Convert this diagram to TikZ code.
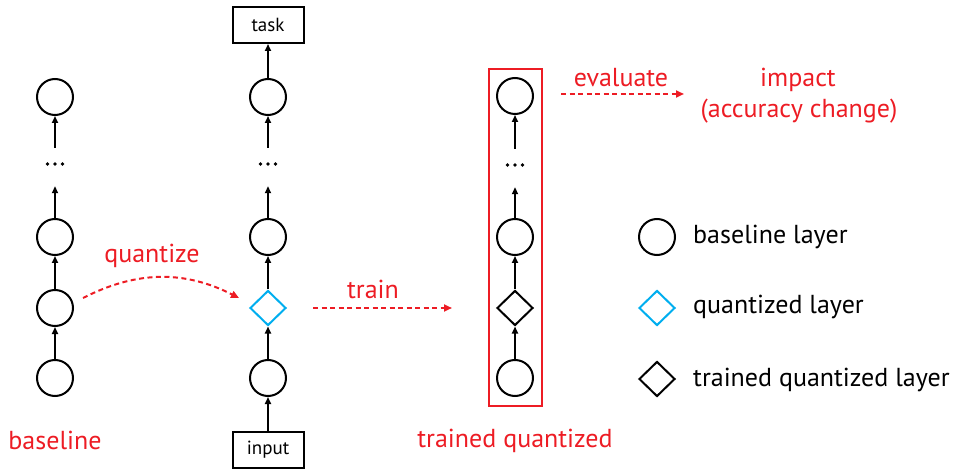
\documentclass[tikz,border=0pt]{standalone}
\usepackage{fontspec}
\setmainfont{PT Sans}
\usetikzlibrary{arrows.meta,shapes.geometric,calc}
\definecolor{qred}{RGB}{237,28,36}
\definecolor{qblue}{RGB}{0,174,239}
\begin{document}
\begin{tikzpicture}[x=1pt,y=-1pt,
  layer/.style={circle,draw,line width=2pt,minimum size=36pt,inner sep=0pt},
  qlayer/.style={diamond,draw=qblue,line width=2pt,minimum width=36pt,minimum height=35pt,inner sep=0pt},
  tqlayer/.style={qlayer,draw=black},
  dotsnode/.style={minimum width=22pt,minimum height=32pt,inner sep=0pt},
  iobox/.style={draw,line width=2pt,minimum width=71pt,minimum height=36pt,inner sep=0pt,font=\fontsize{19}{22}\selectfont},
  conn/.style={-{Triangle[length=7pt,width=6pt]},line width=1.7pt},
  redlbl/.style={text=qred,anchor=base,inner sep=0pt,font=\fontsize{26}{30}\selectfont},
  leglbl/.style={anchor=base west,inner sep=0pt,font=\fontsize{26}{30}\selectfont},
  redarrow/.style={draw=qred,line width=2pt,dash pattern=on 5pt off 3.5pt,-{Triangle[length=8pt,width=7pt]},qred},
]
\useasboundingbox (0,0) rectangle (953,470);

% column 1: baseline
\node[layer] (a1) at (55,97) {};
\node[dotsnode] (ad) at (55,164) {};
\node[layer] (a2) at (55,237) {};
\node[layer] (a3) at (55,308) {};
\node[layer] (a4) at (55,378) {};
\foreach \dx in {-7.5,0,7.5} \fill ([xshift=\dx pt]ad.center) circle (1.9pt);
\draw[conn] (a4) -- (a3);
\draw[conn] (a3) -- (a2);
\draw[conn,shorten >=6pt] (a2) -- (ad);
\draw[conn] (ad) -- (a1);
\node[redlbl] (lbase) at (55,449) {baseline};

% column 2: quantized
\node[iobox] (task) at (268,25) {task};
\node[layer] (b1) at (268,97) {};
\node[dotsnode] (bd) at (268,164) {};
\node[layer] (b2) at (268,237) {};
\node[qlayer] (bq) at (268,308) {};
\node[layer] (b3) at (268,378) {};
\node[iobox] (input) at (268,449.5) {input};
\foreach \dx in {-7.5,0,7.5} \fill ([xshift=\dx pt]bd.center) circle (1.9pt);
\draw[conn] (input) -- (b3);
\draw[conn] (b3) -- (bq);
\draw[conn] (bq) -- (b2);
\draw[conn,shorten >=6pt] (b2) -- (bd);
\draw[conn] (bd) -- (b1);
\draw[conn] (b1) -- (task);

% column 3: trained quantized
\node[layer] (c1) at (515,96) {};
\node[dotsnode] (cd) at (515,165) {};
\node[layer] (c2) at (515,237) {};
\node[tqlayer] (cq) at (515,308) {};
\node[layer] (c3) at (515,378) {};
\foreach \dx in {-7.5,0,7.5} \fill ([xshift=\dx pt]cd.center) circle (1.9pt);
\draw[conn] (c3) -- (cq);
\draw[conn] (cq) -- (c2);
\draw[conn,shorten >=6pt] (c2) -- (cd);
\draw[conn] (cd) -- (c1);
\node[draw=qred,line width=2pt,minimum width=53pt,minimum height=337pt,inner sep=0pt] (qbox) at (515.5,237.5) {};
\node[redlbl] (ltq) at (515,447) {trained quantized};

% process arrows
\draw[redarrow] ([shift={(9pt,10pt)}]a3.east) to[out=27,in=153] ([shift={(-10pt,10pt)}]bq.west);
\node[redlbl] (lquant) at (152,263) {quantize};
\draw[redarrow] ([xshift=26pt]bq.east) -- ([xshift=-36pt]qbox.west |- bq.east);
\node[redlbl] (ltrain) at (373,299) {train};
\coordinate (evs) at ([xshift=18pt]qbox.east |- c1.north);
\draw[redarrow] ([yshift=-17pt]evs) -- ++(123,0) coordinate (eve);
\node[redlbl] (leval) at (621,87) {evaluate};
\node[redlbl] (limp) at (798,87) {impact};
\node[redlbl] (lacc) at (799,118) {(accuracy change)};

% legend
\node[layer] (g1) at (657,237) {};
\node[qlayer] (g2) at (657,308) {};
\node[tqlayer] (g3) at (657,379) {};
\node[leglbl] (t1) at (693,244) {baseline layer};
\node[leglbl] (t2) at (693,314) {quantized layer};
\node[leglbl] (t3) at (693,386) {trained quantized layer};
\end{tikzpicture}
\end{document}
